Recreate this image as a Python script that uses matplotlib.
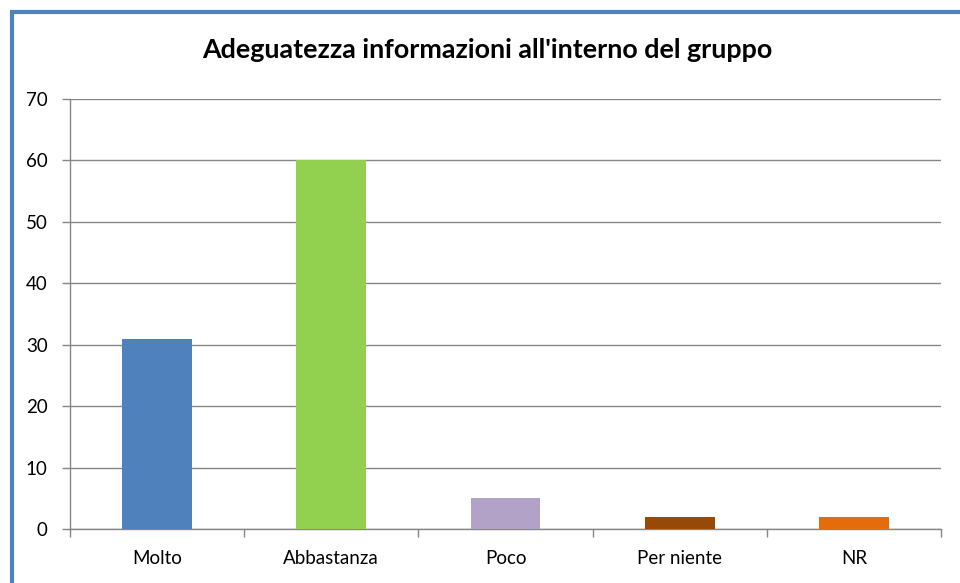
import matplotlib.pyplot as plt
from matplotlib.patches import Rectangle
from matplotlib.ticker import FixedLocator, NullFormatter

categories = ['Molto', 'Abbastanza', 'Poco', 'Per niente', 'NR']
values = [31, 60, 5, 2, 2]
colors = ['#4F81BD', '#92D050', '#B3A2C7', '#984807', '#E46C0A']
yticks = [0, 10, 20, 30, 40, 50, 60, 70]

plt.rcParams['font.family'] = ['Lato', 'DejaVu Sans']

W, H = 960, 583
fig = plt.figure(figsize=(9.6, 5.83), dpi=100)
ax = fig.add_axes([70 / W, 1 - 529 / H, (941 - 70) / W, (529 - 99) / H])

x = range(len(categories))
ax.bar(x, values, width=0.4, color=colors, zorder=3)

ax.set_xlim(-0.5, len(categories) - 0.5)
ax.set_ylim(0, 70)
ax.set_yticks(yticks)
ax.set_xticks(list(x))
ax.set_xticklabels(categories)
ax.tick_params(axis='x', length=0, pad=15, labelsize=13.5)
ax.xaxis.set_minor_locator(FixedLocator([i - 0.5 for i in range(len(categories) + 1)]))
ax.xaxis.set_minor_formatter(NullFormatter())
ax.tick_params(axis='x', which='minor', length=6, color='#868686', width=1)
ax.tick_params(axis='y', length=6, color='#868686', width=1, labelsize=13.5, pad=10)

ax.grid(axis='y', color='#868686', linewidth=1, zorder=0)
for s in ['top', 'right']:
    ax.spines[s].set_visible(False)
for s in ['left', 'bottom']:
    ax.spines[s].set_color('#868686')
    ax.spines[s].set_linewidth(1)

fig.text(487 / W, 1 - 50 / H, "Adeguatezza informazioni all'interno del gruppo",
         ha='center', va='center', fontsize=19.4, fontweight='bold')

# blue frame round the chart area
fig.patches.append(Rectangle((12 / W, -0.1), 1.2, 1 - 12 / H + 0.1,
                             transform=fig.transFigure, fill=False,
                             edgecolor='#4F81BD', linewidth=3))

fig.savefig('out.png', dpi=100)
